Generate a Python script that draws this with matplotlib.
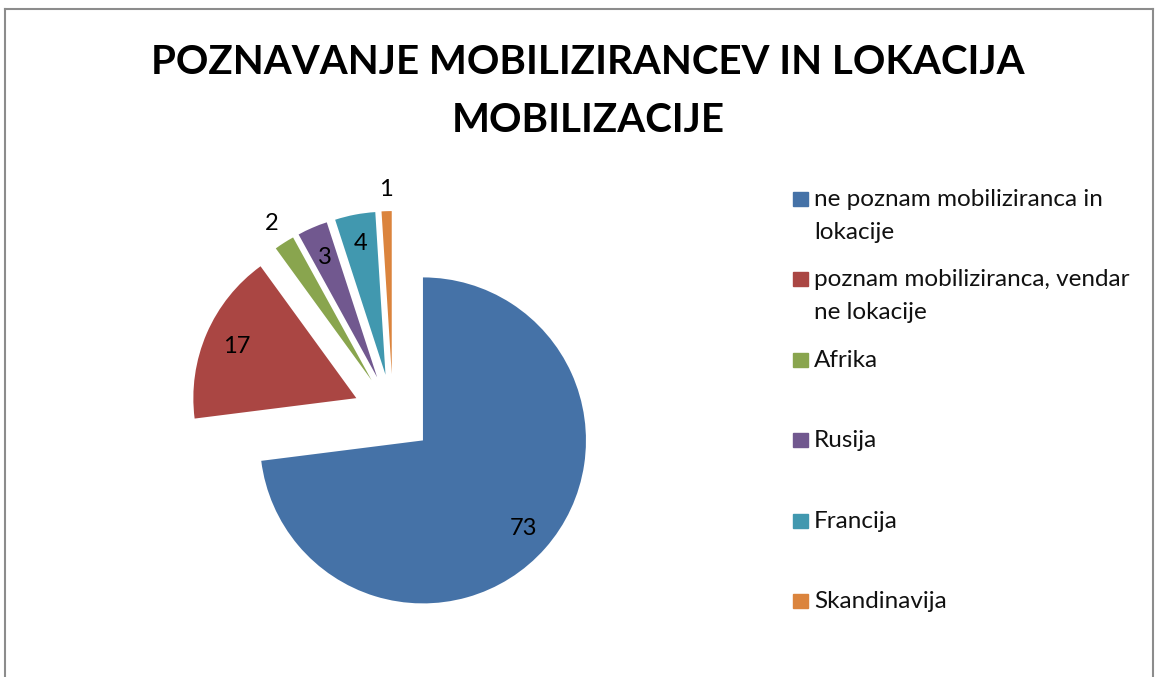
import numpy as np
import matplotlib.pyplot as plt
from matplotlib.patches import Rectangle
from matplotlib.lines import Line2D

plt.rcParams['font.family'] = ['Lato', 'DejaVu Sans']

title = "POZNAVANJE MOBILIZIRANCEV IN LOKACIJA\nMOBILIZACIJE"
categories = ["ne poznam mobiliziranca in\nlokacije",
              "poznam mobiliziranca, vendar\nne lokacije",
              "Afrika", "Rusija", "Francija", "Skandinavija"]
values = [73, 17, 2, 3, 4, 1]
colors = ['#4572A7', '#AA4643', '#89A54E', '#71588F', '#4198AF', '#DB843D']

W, H = 1161, 677
fig = plt.figure(figsize=(W / 100, H / 100), dpi=100)

def fx(x):
    return x / W

def fy(y):
    return 1 - y / H

# chart border (gray frame, open at bottom)
for xs, ys in [([5, 5], [9, H]), ([5, 1153], [9, 9]), ([1153, 1153], [9, H])]:
    fig.add_artist(Line2D([fx(x) for x in xs], [fy(y) for y in ys],
                          color='#8c8c8c', lw=1.5, transform=fig.transFigure))

fig.text(fx(588), fy(91), title, ha='center', va='center', fontsize=29,
         fontweight='bold', linespacing=1.7)

# pie
R = 163
cx, cy = 393, 414
ax = fig.add_axes([fx(cx - 2 * R), fy(cy + 1.5 * R), 4 * R / W, 3.5 * R / H])
wedges, _ = ax.pie(values, colors=colors, startangle=90, counterclock=False,
                   explode=[0.245] * len(values), radius=1,
                   wedgeprops=dict(linewidth=0))
ax.set_xlim(-2, 2)
ax.set_ylim(-1.5, 2.0)
ax.axis('off')

label_dist = [0.82, 0.80, 1.14, 0.80, 0.82, 1.13]
for w, v, d in zip(wedges, values, label_dist):
    mid = np.deg2rad((w.theta1 + w.theta2) / 2)
    x = w.center[0] + d * w.r * np.cos(mid)
    y = w.center[1] + d * w.r * np.sin(mid)
    ax.text(x, y, str(v), ha='center', va='center', fontsize=17)

# legend
base0, step, line_h = 206, 80.4, 33
for i, (lab, col) in enumerate(zip(categories, colors)):
    b = base0 + i * step
    fig.add_artist(Rectangle((fx(793), fy(b)), 15 / W, 14 / H, color=col,
                             transform=fig.transFigure))
    for j, line in enumerate(lab.split('\n')):
        fig.text(fx(814), fy(b + j * line_h), line, ha='left', va='baseline',
                 fontsize=17.5, color='#111111')

fig.savefig('out.png', dpi=100)
